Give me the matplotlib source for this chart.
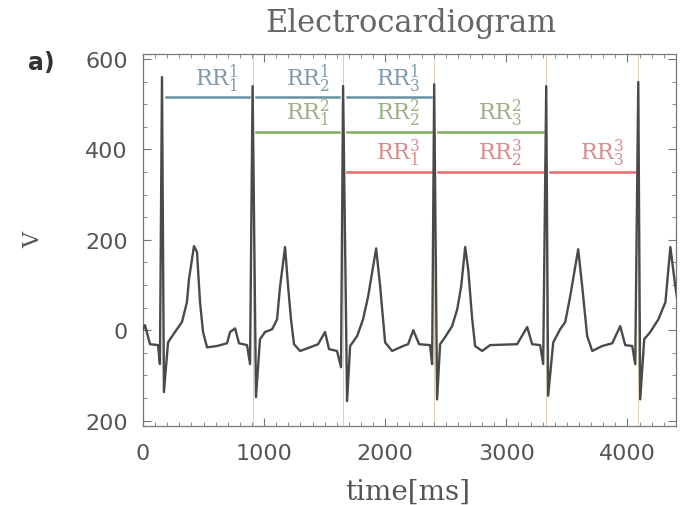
import matplotlib
matplotlib.use("Agg")
import matplotlib.pyplot as plt
from matplotlib.ticker import MultipleLocator

# ==== data ====
# ECG trace: time [ms] and amplitude
T_MS = [
    0, 17, 58, 124, 140, 157, 173, 207, 264, 322, 363, 380, 421, 446, 471, 496, 529, 611,
    694, 719, 760, 793, 859, 884, 905, 933, 966, 1008, 1066, 1107, 1132, 1173, 1198, 1222,
    1247, 1297, 1379, 1446, 1503, 1536, 1602, 1635, 1652, 1685, 1710, 1768, 1817, 1859,
    1925, 1958, 1999, 2057, 2148, 2189, 2231, 2280, 2370, 2387, 2404, 2428, 2453, 2495,
    2552, 2594, 2627, 2660, 2685, 2718, 2742, 2800, 2866, 3089, 3172, 3213, 3279, 3304,
    3329, 3345, 3387, 3444, 3486, 3527, 3593, 3626, 3667, 3709, 3791, 3874, 3940, 3981,
    4039, 4064, 4089, 4105, 4138, 4188, 4255, 4313, 4354, 4387, 4430,
]
V_UV = [
    2, 11, -31, -33, -75, 560, -137, -27, -4, 18, 62, 113, 186, 173, 62, -4, -38, -35,
    -29, -4, 4, -29, -33, -75, 540, -148, -20, -4, 2, 24, 97, 184, 97, 24,
    -31, -46, -38, -31, -4, -42, -46, -82, 540, -157, -35, -13, 24, 75,
    181, 97, -27, -46, -35, -31, 0, -31, -33, -75, 544, -153, -31, -15,
    9, 46, 97, 184, 135, 24, -35, -46, -33, -31, 7, -31, -33, -75,
    540, -145, -27, 2, 18, 75, 179, 97, -13, -46, -35, -29, 9, -33,
    -35, -75, 549, -153, -20, -4, 24, 62, 184, 113, 30,
]

# R peak times [ms]
R_PEAKS = [157, 905, 1652, 2404, 3329, 4089]
# heights of the RR^1, RR^2, RR^3 marker rows
RR_LEVELS = [515, 438, 350]

X_TICKS = [0, 1000, 2000, 3000, 4000]
Y_TICKS = [-200, 0, 200, 400, 600]
Y_TICKLABELS = ["200", "0", "200", "400", "600"]

LINE_COLORS = ["#6a8fa3", "#7fae5e", "#e26a6a"]
TEXT_COLORS = ["#7e9aab", "#98b382", "#d98a8a"]

plt.rcParams["font.family"] = ["DejaVu Sans"]
plt.rcParams["mathtext.fontset"] = "dejavuserif"

fig = plt.figure(figsize=(6.93, 5.06), dpi=100)
ax = fig.add_axes([0.2063, 0.1561, 0.7691, 0.7352])

# faint markers at each beat
for r in R_PEAKS[1:]:
    ax.axvline(r, color="#d8c8b0", lw=0.6, zorder=0)

ax.plot(T_MS, V_UV, color="#4a4a4a", lw=1.7, solid_joinstyle="round", zorder=3)

# RR interval rows
gap = 30
for k, lvl in enumerate(RR_LEVELS):
    for i in range(3):
        a, b = R_PEAKS[k + i], R_PEAKS[k + i + 1]
        ax.plot([a + gap, b - gap], [lvl, lvl], color=LINE_COLORS[k], lw=1.8, zorder=2)
        ax.text((a + b) / 2 + 80, lvl + 28, rf"RR$_{{{i + 1}}}^{{{k + 1}}}$",
                ha="center", va="baseline", color=TEXT_COLORS[k], fontsize=16,
                family="DejaVu Serif")

ax.set_xlim(0, 4400)
ax.set_ylim(-212, 611)
ax.set_xticks(X_TICKS)
ax.set_xticklabels([str(x) for x in X_TICKS])
ax.set_yticks(Y_TICKS)
ax.set_yticklabels(Y_TICKLABELS)
ax.xaxis.set_minor_locator(MultipleLocator(100))
ax.yaxis.set_minor_locator(MultipleLocator(50))
ax.tick_params(which="both", direction="in", top=True, right=True, color="#777777")
ax.tick_params(which="major", length=6, labelsize=16, labelcolor="#555555")
ax.tick_params(which="minor", length=3)
ax.tick_params(axis="x", pad=12)
ax.tick_params(axis="y", pad=11)
for sp in ax.spines.values():
    sp.set_color("#777777")
    sp.set_linewidth(0.9)

ax.set_xlabel("time[ms]", fontsize=20, family="DejaVu Serif", color="#555555")
ax.xaxis.set_label_coords(0.497, -0.14)
ax.set_ylabel("V", fontsize=16, family="DejaVu Serif", color="#555555")
ax.yaxis.set_label_coords(-0.185, 0.503)

fig.text(0.593, 0.9526, "Electrocardiogram", ha="center", va="center", fontsize=22,
         family="DejaVu Serif", color="#666666")
fig.text(0.0594, 0.8755, "a)", ha="center", va="center", fontsize=17,
         fontweight="bold", color="#333333")

fig.savefig("out.png", dpi=100)
